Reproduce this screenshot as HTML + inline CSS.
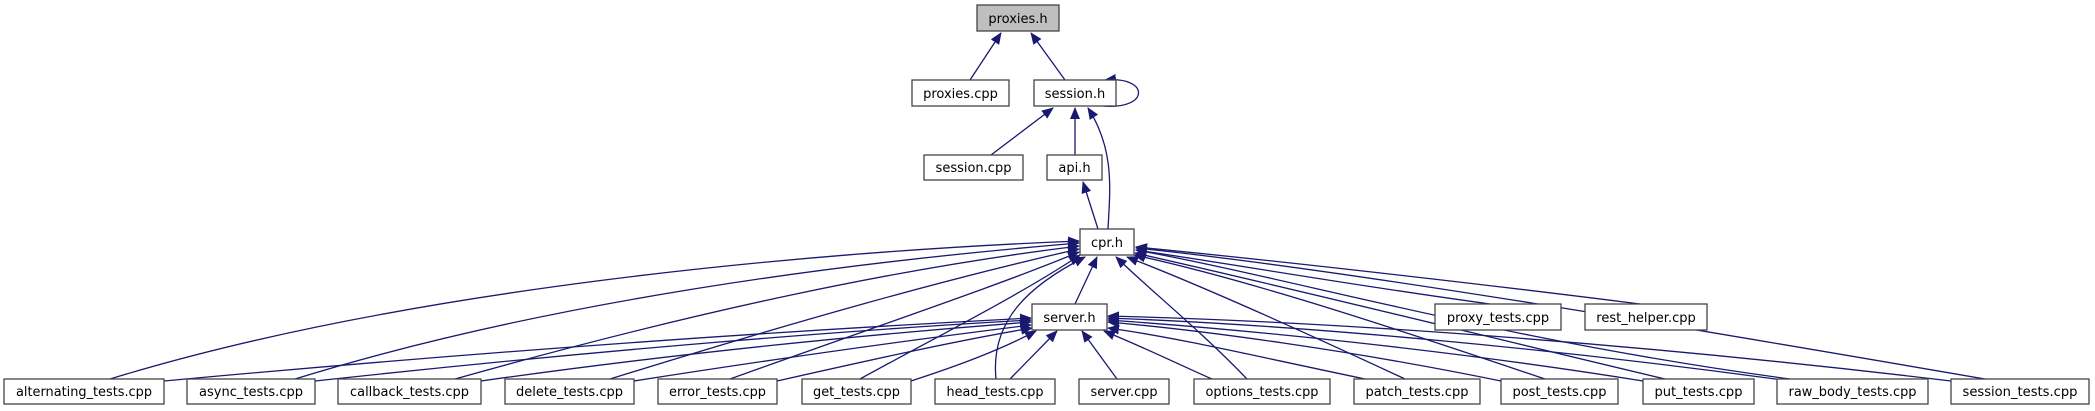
<!DOCTYPE html>
<html><head><meta charset="utf-8"><style>
html,body{margin:0;padding:0;background:#fff;}
svg{display:block;}
text{font-family:"DejaVu Sans","Liberation Sans",sans-serif;font-size:13px;fill:#000;}
.b{fill:#fff;stroke:#444;stroke-width:1.3;}
.e{fill:none;stroke:#191970;stroke-width:1.3;}
</style></head><body>
<svg width="2095" height="411" viewBox="0 0 2095 411" xmlns="http://www.w3.org/2000/svg">
<defs><marker id="a" markerWidth="12" markerHeight="10" refX="11" refY="5" orient="auto" markerUnits="userSpaceOnUse"><path d="M0,0 L12,5 L0,10 Z" fill="#191970"/></marker></defs>
<g class="e" marker-end="url(#a)">
<path d="M970,80 L1001,33"/>
<path d="M1065,80 L1031,33"/>
<path d="M1103,106 C1150,110 1150,76 1105,80"/>
<path d="M991,155 L1053,108"/>
<path d="M1075,155 L1075,108"/>
<path d="M1108,229 C1110,190 1115,150 1088,108"/>
<path d="M1098,229 L1083,182"/>
<path d="M1075,304 L1097,257"/>
<path d="M1490,304 C1350,285 1220,262 1136,250"/>
<path d="M1640,304 C1450,280 1250,258 1136,247"/>
<path d="M110,379 C400,290 800,252 1079,241"/>
<path d="M295,379 C550,300 850,262 1079,243"/>
<path d="M455,379 C700,310 900,268 1079,246"/>
<path d="M610,379 C800,320 950,278 1079,249"/>
<path d="M730,379 C880,325 1000,285 1079,252"/>
<path d="M860,379 C940,335 1020,295 1080,255"/>
<path d="M996,379 C990,320 1030,285 1085,257"/>
<path d="M1247,379 C1200,330 1150,290 1116,257"/>
<path d="M1405,379 C1300,330 1200,285 1127,257"/>
<path d="M1545,379 C1400,330 1250,280 1134,255"/>
<path d="M1665,379 C1500,340 1300,290 1135,253"/>
<path d="M1790,379 C1500,340 1300,280 1136,250"/>
<path d="M1985,379 C1700,330 1350,270 1136,248"/>
<path d="M164,381 C500,350 800,330 1031,318"/>
<path d="M315,381 C600,350 850,330 1031,320"/>
<path d="M481,381 C700,350 900,332 1031,322"/>
<path d="M634,381 C800,355 950,335 1031,325"/>
<path d="M777,381 C870,360 960,340 1032,328"/>
<path d="M911,381 C960,365 1000,350 1036,331"/>
<path d="M1010,379 L1057,331"/>
<path d="M1117,379 L1082,331"/>
<path d="M1212,379 C1180,365 1150,350 1104,331"/>
<path d="M1365,379 C1250,355 1180,338 1108,328"/>
<path d="M1501,381 C1350,350 1200,330 1108,322"/>
<path d="M1643,381 C1450,350 1250,330 1108,320"/>
<path d="M1790,381 C1550,348 1300,325 1108,318"/>
<path d="M1951,381 C1650,345 1350,322 1108,316"/>
</g>
<rect x="977" y="5" width="82" height="26" fill="#bfbfbf" stroke="#444" stroke-width="1.3"/>
<text x="1018" y="23" text-anchor="middle">proxies.h</text>
<rect class="b" x="912" y="80" width="97" height="26"/><text x="960.5" y="98" text-anchor="middle">proxies.cpp</text>
<rect class="b" x="1034" y="80" width="82" height="26"/><text x="1075" y="98" text-anchor="middle">session.h</text>
<rect class="b" x="924" y="155" width="99" height="25"/><text x="973.5" y="172" text-anchor="middle">session.cpp</text>
<rect class="b" x="1047" y="155" width="55" height="25"/><text x="1074.5" y="172" text-anchor="middle">api.h</text>
<rect class="b" x="1080" y="229" width="54" height="26"/><text x="1107" y="247" text-anchor="middle">cpr.h</text>
<rect class="b" x="1032" y="304" width="75" height="26"/><text x="1069.5" y="322" text-anchor="middle">server.h</text>
<rect class="b" x="1435" y="304" width="126" height="26"/><text x="1498" y="322" text-anchor="middle">proxy_tests.cpp</text>
<rect class="b" x="1585" y="304" width="122" height="26"/><text x="1646" y="322" text-anchor="middle">rest_helper.cpp</text>
<g>
<rect class="b" x="4" y="379" width="160" height="25"/><text x="84" y="396" text-anchor="middle" textLength="136" lengthAdjust="spacingAndGlyphs">alternating_tests.cpp</text>
<rect class="b" x="187" y="379" width="128" height="25"/><text x="251" y="396" text-anchor="middle" textLength="104" lengthAdjust="spacingAndGlyphs">async_tests.cpp</text>
<rect class="b" x="338" y="379" width="143" height="25"/><text x="409.5" y="396" text-anchor="middle" textLength="119" lengthAdjust="spacingAndGlyphs">callback_tests.cpp</text>
<rect class="b" x="505" y="379" width="129" height="25"/><text x="569.5" y="396" text-anchor="middle" textLength="107" lengthAdjust="spacingAndGlyphs">delete_tests.cpp</text>
<rect class="b" x="658" y="379" width="119" height="25"/><text x="717.5" y="396" text-anchor="middle" textLength="97" lengthAdjust="spacingAndGlyphs">error_tests.cpp</text>
<rect class="b" x="802" y="379" width="109" height="25"/><text x="856.5" y="396" text-anchor="middle" textLength="87" lengthAdjust="spacingAndGlyphs">get_tests.cpp</text>
<rect class="b" x="935" y="379" width="120" height="25"/><text x="995" y="396" text-anchor="middle" textLength="97" lengthAdjust="spacingAndGlyphs">head_tests.cpp</text>
<rect class="b" x="1079" y="379" width="90" height="25"/><text x="1124" y="396" text-anchor="middle" textLength="67" lengthAdjust="spacingAndGlyphs">server.cpp</text>
<rect class="b" x="1194" y="379" width="136" height="25"/><text x="1262" y="396" text-anchor="middle" textLength="113" lengthAdjust="spacingAndGlyphs">options_tests.cpp</text>
<rect class="b" x="1354" y="379" width="126" height="25"/><text x="1417" y="396" text-anchor="middle" textLength="103" lengthAdjust="spacingAndGlyphs">patch_tests.cpp</text>
<rect class="b" x="1501" y="379" width="117" height="25"/><text x="1559.5" y="396" text-anchor="middle" textLength="94" lengthAdjust="spacingAndGlyphs">post_tests.cpp</text>
<rect class="b" x="1643" y="379" width="111" height="25"/><text x="1698.5" y="396" text-anchor="middle" textLength="88" lengthAdjust="spacingAndGlyphs">put_tests.cpp</text>
<rect class="b" x="1777" y="379" width="151" height="25"/><text x="1852.5" y="396" text-anchor="middle" textLength="128" lengthAdjust="spacingAndGlyphs">raw_body_tests.cpp</text>
<rect class="b" x="1951" y="379" width="138" height="25"/><text x="2020" y="396" text-anchor="middle" textLength="115" lengthAdjust="spacingAndGlyphs">session_tests.cpp</text>
</g>
</svg>
</body></html>
